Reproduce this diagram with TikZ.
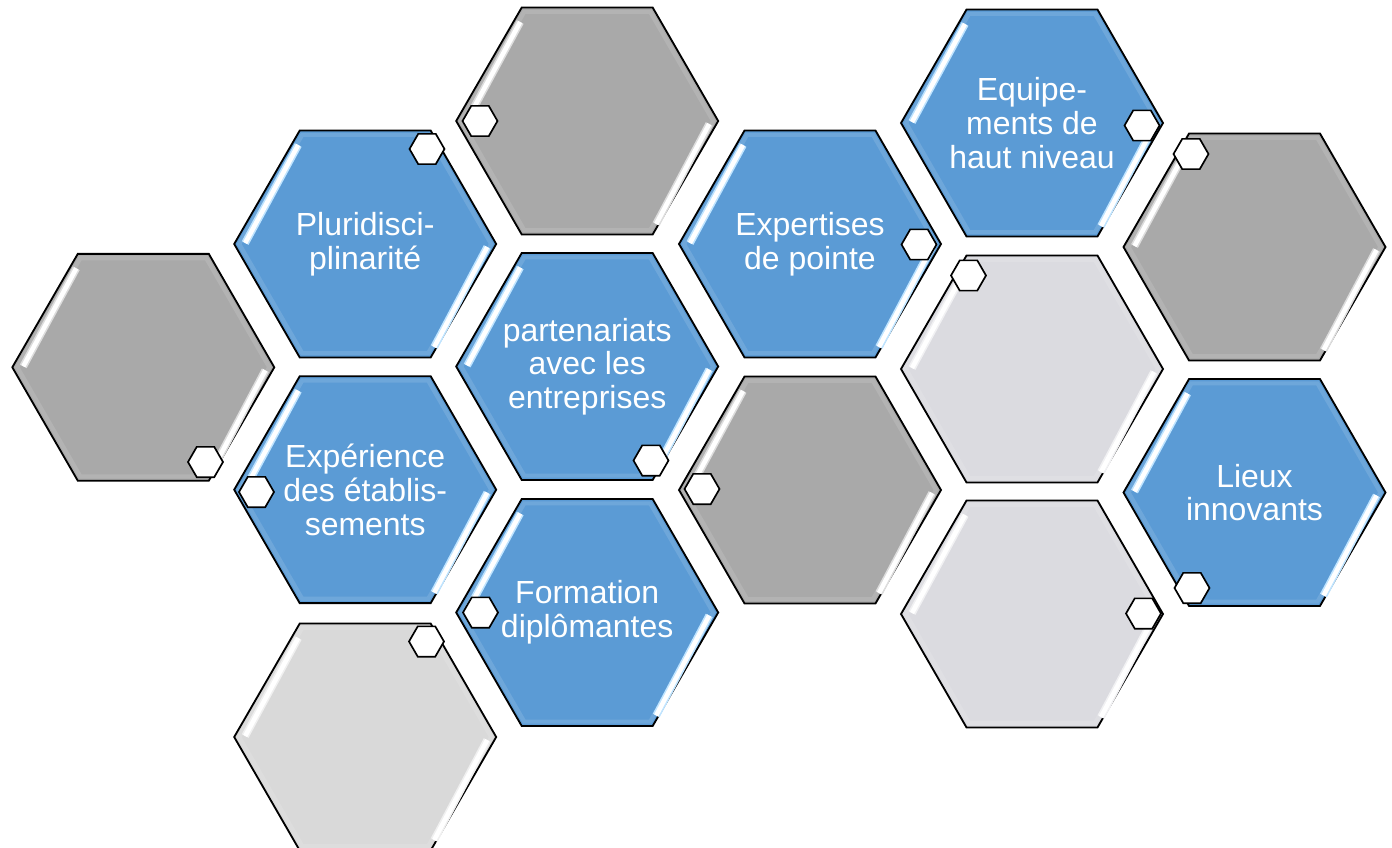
\documentclass[tikz,border=0pt]{standalone}
\usepackage{fontspec}
\setmainfont{Liberation Sans}
\usetikzlibrary{shapes.geometric}
\definecolor{hexblue}{HTML}{5B9BD5}
\definecolor{hexdark}{HTML}{A9A9A9}
\definecolor{hexlav}{HTML}{DBDBE0}
\definecolor{hexlight}{HTML}{D9D9D9}
\definecolor{glowblue}{HTML}{BFE4FF}
\tikzset{
  big/.style={regular polygon, regular polygon sides=6, minimum size=13.1cm, inner sep=0pt, draw=black, line width=2.6pt},
  bluehex/.style={big, fill=hexblue},
  darkhex/.style={big, fill=hexdark},
  lavhex/.style={big, fill=hexlav},
  lighthex/.style={big, fill=hexlight},
  bevel/.style={regular polygon, regular polygon sides=6, minimum size=12.6cm, inner sep=0pt, draw=white, line width=6pt, draw opacity=0.12},
  txt/.style={align=center, text=white, inner sep=0pt, font=\fontsize{45.5pt}{48pt}\selectfont},
  smallhex/.style={regular polygon, regular polygon sides=6, minimum size=1.75cm, inner sep=0pt, draw=black, line width=2.4pt, fill=white},
  glowline/.style={line width=11pt, line cap=butt},
  shineline/.style={line width=6.5pt, line cap=butt, draw=white}
}
\newcommand\hexshine[2]{%
  \draw[shift={(#1.center)}, glowline, draw=#2] (-67,-99) -- (-120,-1) (122,3) -- (69,103);
  \draw[shift={(#1.center)}, shineline] (-67,-99) -- (-120,-1) (122,3) -- (69,103);
}
\begin{document}
\begin{tikzpicture}[x=0.05cm, y=-0.05cm]
\useasboundingbox (0,0) rectangle (1392,848);
% big hexagons
\node[darkhex]  (A) at (143.3,367.3) {};
\node[bluehex]  (B) at (365.2,244) {};
\node[bluehex]  (C) at (365.2,489.7) {};
\node[lighthex] (D) at (365.2,737) {};
\node[darkhex]  (E) at (587.2,121) {};
\node[bluehex]  (F) at (587.2,366.5) {};
\node[bluehex]  (G) at (587.2,612.5) {};
\node[bluehex]  (H) at (810,244) {};
\node[darkhex]  (I) at (810,490) {};
\node[bluehex]  (J) at (1032,123) {};
\node[lavhex]   (K) at (1032,369) {};
\node[lavhex]   (L) at (1032,614) {};
\node[darkhex]  (M) at (1254.5,247) {};
\node[bluehex]  (N) at (1254.5,492.5) {};
% bevels
\foreach \h in {A,B,C,D,E,F,G,H,I,J,K,L,M,N}
  \node[bevel] (bev\h) at (\h) {};
% shine stripes
\hexshine{A}{white!60!hexdark}
\hexshine{B}{glowblue}
\hexshine{C}{glowblue}
\hexshine{D}{white!60!hexlight}
\hexshine{E}{white!60!hexdark}
\hexshine{F}{glowblue}
\hexshine{G}{glowblue}
\hexshine{H}{glowblue}
\hexshine{I}{white!60!hexdark}
\hexshine{J}{glowblue}
\hexshine{K}{white!60!hexlav}
\hexshine{L}{white!60!hexlav}
\hexshine{M}{white!60!hexdark}
\hexshine{N}{glowblue}
% texts
\node[txt] (Bt) at (B) {Pluridisci-\\plinarité};
\node[txt] (Ct) at (C) {Expérience\\des établis-\\sements};
\node[txt] (Ft) at (F) {partenariats\\avec les\\entreprises};
\node[txt] (Gt) at (G) {Formation\\diplômantes};
\node[txt] (Ht) at (H) {Expertises\\de pointe};
\node[txt] (Jt) at (J) {Equipe-\\ments de\\haut niveau};
\node[txt] (Nt) at (N) {Lieux\\innovants};
% small hexagons
\node[smallhex] (a) at (205.5,462) {};
\node[smallhex] (b) at (427,149) {};
\node[smallhex] (c) at (256.5,492) {};
\node[smallhex] (d) at (426.5,641.5) {};
\node[smallhex] (e) at (480,121) {};
\node[smallhex] (f) at (651,460.5) {};
\node[smallhex] (g) at (480.5,612.5) {};
\node[smallhex] (h) at (919,244.5) {};
\node[smallhex] (i) at (702,489) {};
\node[smallhex] (j) at (1142,125.5) {};
\node[smallhex] (k) at (968.5,275.5) {};
\node[smallhex] (l) at (1143.5,613.5) {};
\node[smallhex] (m) at (1191,154) {};
\node[smallhex] (n) at (1192,588) {};
\end{tikzpicture}
\end{document}
